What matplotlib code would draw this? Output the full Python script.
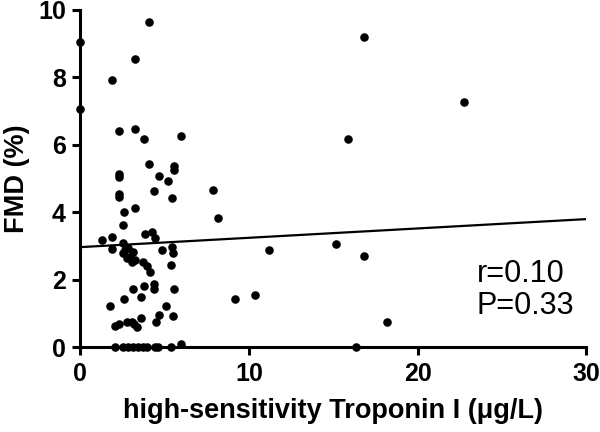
import matplotlib
matplotlib.use("Agg")
import matplotlib.pyplot as plt

plt.rcParams["font.family"] = ["Liberation Sans", "DejaVu Sans"]

# hs-TnI (ug/L) and FMD (%)
troponin = [0, 0, 4.07, 3.25, 1.89,
            2.27, 3.25, 3.77, 5.96,
            4.09, 5.55, 5.55, 2.27, 2.27,
            4.68, 5.17, 4.36, 2.27, 2.27, 5.45,
            7.85, 8.18, 2.58, 3.25, 2.50,
            1.26, 1.85, 3.83, 4.22, 4.42, 1.89,
            2.54, 2.54, 2.84, 2.94, 3.13, 3.23, 2.74, 3.04, 2.64,
            3.73, 3.93, 4.12,
            4.85, 5.45, 5.47, 5.40,
            4.36, 4.36, 3.77, 3.10, 5.55,
            2.58, 3.57, 1.75, 5.06,
            5.47, 4.68, 4.48, 3.57,
            2.05, 2.28, 2.74, 3.04, 3.20, 3.33,
            2.05, 2.52, 2.82, 3.12, 3.41, 3.71, 3.95, 4.42, 4.60, 5.35,
            5.95, 16.33,
            16.84, 22.76, 15.88, 11.17, 15.14, 16.84, 9.17, 10.37, 18.17]
fmd = [9.06, 7.07, 9.65, 8.55, 7.92,
       6.41, 6.46, 6.16, 6.27,
       5.43, 5.38, 5.26, 5.14, 5.06,
       5.08, 4.93, 4.62, 4.55, 4.45, 4.42,
       4.67, 3.83, 4.02, 4.12, 3.62,
       3.19, 3.28, 3.35, 3.41, 3.25, 2.92,
       3.09, 2.79, 2.94, 2.69, 2.84, 2.59, 2.64, 2.54, 2.89,
       2.54, 2.42, 2.22,
       2.87, 2.97, 2.79, 2.45,
       1.88, 1.73, 1.82, 1.72, 1.72,
       1.43, 1.49, 1.23, 1.23,
       0.93, 0.95, 0.74, 0.88,
       0.62, 0.68, 0.74, 0.76, 0.70, 0.59,
       0, 0, 0, 0, 0, 0, 0, 0, 0, 0,
       0.10, 0,
       9.21, 7.26, 6.17, 2.87, 3.07, 2.72, 1.44, 1.54, 0.74]

# regression line ends
fit_x = [0, 30]
fit_y = [2.97, 3.80]

fig = plt.figure(figsize=(6, 4.32), dpi=100)
ax = fig.add_axes([0.134, 0.196, 0.843, 0.781])

ax.scatter(troponin, fmd, s=38, color="black", zorder=3, clip_on=False, linewidths=0)
ax.plot(fit_x, fit_y, color="black", lw=1.6, zorder=2)

ax.set_xlim(0, 30)
ax.set_ylim(0, 10)
ax.set_xticks([0, 10, 20, 30])
ax.set_yticks([0, 2, 4, 6, 8, 10])

for s in ["top", "right"]:
    ax.spines[s].set_visible(False)
for s in ["left", "bottom"]:
    ax.spines[s].set_linewidth(2.2)

ax.tick_params(axis="both", width=2.2, length=5.5, labelsize=18, pad=5)
for lab in ax.get_xticklabels() + ax.get_yticklabels():
    lab.set_fontweight("bold")

ax.set_xlabel("high-sensitivity Troponin I (\u03bcg/L)", fontsize=19.5, fontweight="bold", labelpad=9)
ax.set_ylabel("FMD (%)", fontsize=19.5, fontweight="bold", labelpad=6)

ax.text(23.5, 1.7, "r=0.10\nP=0.33", fontsize=22, ha="left", va="center", linespacing=1.1)

fig.savefig("out.png", dpi=100)
